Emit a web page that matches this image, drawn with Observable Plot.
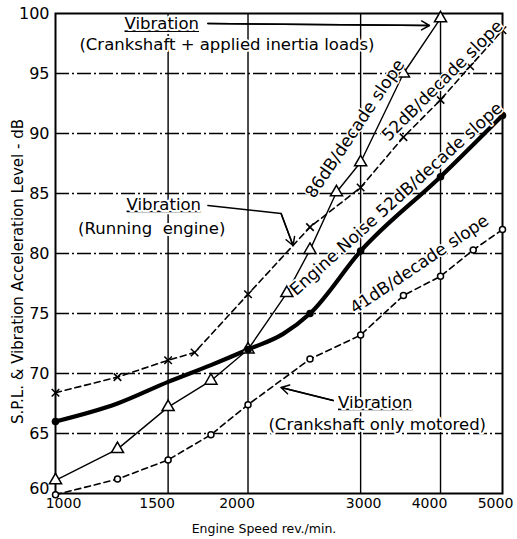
<!DOCTYPE html>
<html><head><meta charset="utf-8">
<script src="https://cdn.jsdelivr.net/npm/d3@7"></script>
<script src="https://cdn.jsdelivr.net/npm/@observablehq/plot@0.6"></script>
<style>body{margin:0;background:#fff} svg text{font-family:"DejaVu Sans"}</style>
</head><body><div id="chart"></div>
<script>
// ---- data (engine speed in rev/min, level in dB) ----
const xTicks = [1000, 1500, 2000, 3000, 4000, 5000];
const yTicks = [60, 65, 70, 75, 80, 85, 90, 95, 100];
const xGrid = [1500, 2000, 3000, 4000];
const yGrid = [65, 70, 75, 80, 85, 90, 95];

// Engine noise (thick solid, filled dots)
const noiseSpeed  = [1000, 1250, 1500, 1750, 2000, 2270, 2500, 3000, 4000, 5000];
const noiseLevel  = [66.0, 67.5, 69.3, 70.7, 72.0, 73.3, 75.0, 80.2, 86.4, 91.5];
const noiseMarked = [1, 0, 0, 0, 1, 0, 1, 1, 1, 1];

// Vibration: crankshaft + applied inertia loads (thin solid, triangles)
const inertiaSpeed = [1000, 1250, 1500, 1750, 2000, 2300, 2500, 2750, 3000, 3500, 4000];
const inertiaLevel = [61.1, 63.7, 67.2, 69.4, 72.0, 76.7, 80.3, 85.1, 87.6, 95.0, 99.6];

// Vibration: running engine (dashed, crosses)
const runningSpeed = [1000, 1250, 1500, 1650, 2000, 2500, 3000, 3500, 4000, 4450, 5000];
const runningLevel = [68.4, 69.7, 71.1, 71.75, 76.6, 82.2, 85.5, 89.7, 92.8, 95.6, 98.6];

// Vibration: crankshaft only motored (dashed, open circles)
const motoredSpeed = [1000, 1250, 1500, 1750, 2000, 2500, 3000, 3500, 4000, 4500, 5000];
const motoredLevel = [59.9, 61.2, 62.8, 64.9, 67.4, 71.2, 73.2, 76.5, 78.1, 80.3, 82.0];

// Annotations
const noteText  = ["Vibration", "(Crankshaft + applied inertia loads)", "Vibration", "(Running  engine)",
                   "Vibration", "(Crankshaft only motored)", "86dB/decade slope", "52dB/decade slope",
                   "Engine Noise 52dB/decade slope", "41dB/decade slope"];
const noteSpeed = [1466, 1854, 1477, 1414, 3162, 3185, 2940, 4027, 3410, 3707];
const noteLevel = [99.12, 97.4, 84.1, 82.1, 67.6, 65.75, 90.4, 94.4, 84.55, 79.1];
const noteAngle = [0, 0, 0, 0, 0, 0, -56, -45, -42, -34];

// Leader lines (last segment carries the arrowhead)
const leaderSpeed = [[1731, 3843], [1731, 2253, 2352], [2718, 2253]];
const leaderLevel = [[99.17, 99.0], [84.0, 83.33, 80.67], [67.75, 68.83]];

const xTitle = "Engine Speed rev./min.";
const yTitle = "S.P.L. & Vibration Acceleration Level - dB";

// ---- build ----
const idx = a => a.map((_, i) => i);
const leaderPts = leaderSpeed.flatMap((s, k) => s.map((v, j) => ({k, x: v, y: leaderLevel[k][j]})));
const leaderLast = leaderSpeed.map((s, k) => ({
  x1: s[s.length - 2], y1: leaderLevel[k][s.length - 2], x2: s[s.length - 1], y2: leaderLevel[k][s.length - 1]}));
const flat = idx(noteText).filter(i => noteAngle[i] === 0);
const slanted = idx(noteText).filter(i => noteAngle[i] !== 0);
const xAxisOpts = dx => ({tickSize: 0, tickPadding: 5, tickFormat: d => String(d), fontSize: 14, label: null, dx});

const chart = Plot.plot({
  width: 517, height: 539,
  marginLeft: 55, marginRight: 15, marginTop: 13, marginBottom: 46,
  x: {type: "log", domain: [1000, 5000]},
  y: {domain: [60, 100]},
  style: {fontFamily: "DejaVu Sans", fontSize: "16px", background: "white", color: "black"},
  marks: [
    Plot.gridX(xGrid, {stroke: "black", strokeOpacity: 1, strokeWidth: 1.4}),
    Plot.gridY(yGrid, {stroke: "black", strokeOpacity: 1, strokeWidth: 1.3, strokeDasharray: "14,3,2,3"}),
    Plot.frame({stroke: "black", strokeWidth: 2}),
    Plot.axisX(xTicks.filter(d => d === 1000), xAxisOpts(8)),
    Plot.axisX(xTicks.filter(d => d === 1500 || d === 2000 || d === 4000), xAxisOpts(-11)),
    Plot.axisX(xTicks.filter(d => d === 3000), xAxisOpts(3)),
    Plot.axisX(xTicks.filter(d => d === 5000), xAxisOpts(-7)),
    Plot.axisY(yTicks.filter(d => d > 60), {tickSize: 0, tickPadding: 6, fontSize: 16, label: null}),
    Plot.axisY(yTicks.filter(d => d === 60), {tickSize: 0, tickPadding: 6, fontSize: 16, label: null, dy: -5}),
    // series
    Plot.line(idx(motoredSpeed), {x: i => motoredSpeed[i], y: i => motoredLevel[i], stroke: "black", strokeWidth: 1.6, strokeDasharray: "6,4"}),
    Plot.line(idx(runningSpeed), {x: i => runningSpeed[i], y: i => runningLevel[i], stroke: "black", strokeWidth: 1.6, strokeDasharray: "6,4"}),
    Plot.line(idx(inertiaSpeed), {x: i => inertiaSpeed[i], y: i => inertiaLevel[i], stroke: "black", strokeWidth: 1.4}),
    Plot.line(idx(noiseSpeed), {x: i => noiseSpeed[i], y: i => noiseLevel[i], stroke: "black", strokeWidth: 4.2, curve: "monotone-x"}),
    Plot.dot(idx(motoredSpeed), {x: i => motoredSpeed[i], y: i => motoredLevel[i], r: 3, fill: "white", stroke: "black", strokeWidth: 1.5}),
    Plot.dot(idx(runningSpeed), {x: i => runningSpeed[i], y: i => runningLevel[i], r: 3.5, symbol: "times", stroke: "black", strokeWidth: 1.6}),
    Plot.dot(idx(inertiaSpeed), {x: i => inertiaSpeed[i], y: i => inertiaLevel[i], r: 4.5, symbol: "triangle", fill: "white", stroke: "black", strokeWidth: 1.5}),
    Plot.dot(idx(noiseSpeed).filter(i => noiseMarked[i]), {x: i => noiseSpeed[i], y: i => noiseLevel[i], r: 3.8, fill: "black"}),
    // leaders
    Plot.line(leaderPts, {x: "x", y: "y", z: "k", stroke: "black", strokeWidth: 1.5}),
    Plot.arrow(leaderLast, {x1: "x1", y1: "y1", x2: "x2", y2: "y2", stroke: "black", strokeWidth: 1.5, headLength: 9}),
    // annotations
    Plot.text(flat, {x: i => noteSpeed[i], y: i => noteLevel[i], text: i => noteText[i],
      fontSize: 16.5, fill: "black", stroke: "white", strokeWidth: 4, lineAnchor: "middle"}),
    Plot.text(slanted, {x: i => noteSpeed[i], y: i => noteLevel[i], text: i => noteText[i], rotate: i => noteAngle[i],
      fontSize: 17, fill: "black", stroke: "white", strokeWidth: 3, lineAnchor: "middle"}),
    // axis titles
    Plot.text([xTitle], {frameAnchor: "bottom", dx: -15, dy: 35, lineAnchor: "middle", textAnchor: "middle", fontSize: 12.5}),
    Plot.text([yTitle], {frameAnchor: "left", dx: -37, dy: 18, rotate: -90, lineAnchor: "middle", textAnchor: "middle", fontSize: 15})
  ]
});
d3.select(chart).selectAll("text").filter(function() { return this.textContent === "Vibration"; })
  .style("text-decoration", "underline");
document.getElementById("chart").appendChild(chart);
</script></body></html>
